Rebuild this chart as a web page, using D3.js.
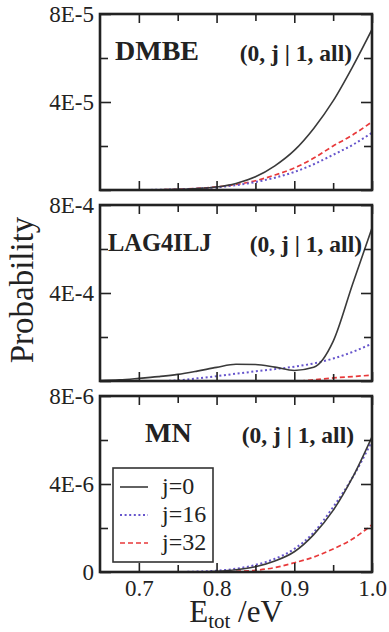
<!DOCTYPE html>
<html>
<head>
<meta charset="utf-8">
<script src="https://cdn.jsdelivr.net/npm/d3@7"></script>
<style>
  body { margin: 0; background: #fff; }
</style>
</head>
<body>
<main></main>
<script>
// energies (eV), sampled every 0.025
const energies = [0.65, 0.675, 0.70, 0.725, 0.75, 0.775, 0.80, 0.825, 0.85, 0.875, 0.90, 0.925, 0.95, 0.975, 1.00];

// DMBE, in units of 1E-5
const dmbeJ0  = [0, 0, 0, 0.01, 0.03, 0.07, 0.14, 0.30, 0.60, 1.10, 1.80, 2.80, 4.05, 5.60, 7.30];
const dmbeJ16 = [0, 0, 0, 0.01, 0.03, 0.06, 0.12, 0.22, 0.36, 0.56, 0.82, 1.17, 1.60, 2.05, 2.60];
const dmbeJ32 = [0, 0, 0, 0.01, 0.03, 0.07, 0.14, 0.25, 0.42, 0.68, 1.00, 1.45, 2.00, 2.50, 3.10];

// LAG4ILJ, in units of 1E-4
const lagJ0  = [0.02, 0.05, 0.12, 0.20, 0.30, 0.45, 0.62, 0.76, 0.75, 0.63, 0.48, 0.62, 1.80, 4.40, 6.95];
const lagJ16 = [0, 0, 0, 0, 0.03, 0.12, 0.22, 0.33, 0.44, 0.54, 0.65, 0.80, 1.02, 1.32, 1.70];
const lagJ32 = [0, 0, 0, 0, 0, 0, 0, 0, 0, 0, 0, 0.05, 0.14, 0.20, 0.27];

// MN, in units of 1E-6
const mnJ0  = [0, 0, 0, 0, 0, 0, 0.03, 0.10, 0.24, 0.50, 0.92, 1.70, 2.80, 4.30, 6.15];
const mnJ16 = [0, 0, 0, 0, 0, 0.02, 0.06, 0.15, 0.32, 0.60, 1.05, 1.80, 2.95, 4.30, 5.95];
const mnJ32 = [0, 0, 0, 0, 0, 0, 0, 0.03, 0.08, 0.20, 0.42, 0.68, 1.05, 1.50, 2.15];

const panelNames = ["DMBE", "LAG4ILJ", "MN"];
const yMajorTicks = [0, 4, 8];
const yMinorTicks = [2, 6];
const yTickLabels = [["", "4E-5", "8E-5"], ["", "4E-4", "8E-4"], ["0", "4E-6", "8E-6"]];
const xMajorTicks = [0.7, 0.8, 0.9, 1.0];
const xMinorTicks = [0.75, 0.85, 0.95];
const xTickLabels = ["0.7", "0.8", "0.9", "1.0"];
const legendLabels = ["j=0", "j=16", "j=32"];
const subtitle = "(0, j | 1, all)";

const panelData = [
  [dmbeJ0, dmbeJ16, dmbeJ32],
  [lagJ0, lagJ16, lagJ32],
  [mnJ0, mnJ16, mnJ32]
];

const size = { width: 389, height: 632 };
const plot = { left: 100, right: 372, top: 14, h: 176, gap: 15 };
const FONT = '"Liberation Serif", "Times New Roman", serif';

const lineStyles = [
  { color: "#3a3a3a", dash: null, width: 1.6 },
  { color: "#6655cc", dash: "2,2.6", width: 2 },
  { color: "#e8393a", dash: "5,3", width: 1.7 }
];

const svg = d3.select("main").append("svg")
  .attr("width", size.width)
  .attr("height", size.height);

const addText = (sel, fs, bold) => sel.append("text")
  .style("font-family", FONT)
  .style("font-size", fs + "px")
  .style("font-weight", bold ? "bold" : "normal")
  .attr("fill", "#222");

const x = d3.scaleLinear().domain([0.65, 1.0]).range([plot.left, plot.right]);

panelData.forEach((series, p) => {
  const top = plot.top + p * (plot.h + plot.gap);
  const bottom = top + plot.h;
  const y = d3.scaleLinear().domain([0, 8]).range([bottom, top]);
  const g = svg.append("g");

  // clip lines to the frame
  g.append("clipPath").attr("id", "clip" + p)
    .append("rect").attr("x", plot.left).attr("y", top)
    .attr("width", plot.right - plot.left).attr("height", plot.h);

  const line = d3.line()
    .x((d, i) => x(energies[i]))
    .y(d => y(d))
    .curve(d3.curveMonotoneX);

  // draw in order 32, 16, 0 so the solid sits on top
  [2, 1, 0].forEach(k => {
    g.append("path")
      .attr("clip-path", `url(#clip${p})`)
      .attr("d", line(series[k]))
      .attr("fill", "none")
      .attr("stroke", lineStyles[k].color)
      .attr("stroke-width", lineStyles[k].width)
      .attr("stroke-dasharray", lineStyles[k].dash);
  });

  // ticks, inward on all four sides
  const addAxis = (axis, tx, ty) => {
    const a = g.append("g").attr("transform", `translate(${tx},${ty})`).call(axis);
    a.select(".domain").remove();
    a.selectAll(".tick line").attr("stroke", "#222").attr("stroke-width", 1.6);
    a.selectAll("text").style("font-family", FONT).style("font-size", "23px").attr("fill", "#222");
    return a;
  };
  addAxis(d3.axisLeft(y).tickValues(yMajorTicks).tickSize(-11).tickPadding(6)
    .tickFormat((d, i) => yTickLabels[p][i]), plot.left, 0);
  addAxis(d3.axisLeft(y).tickValues(yMinorTicks).tickSize(-8).tickFormat(""), plot.left, 0);
  addAxis(d3.axisRight(y).tickValues(yMajorTicks).tickSize(-11).tickFormat(""), plot.right, 0);
  addAxis(d3.axisRight(y).tickValues(yMinorTicks).tickSize(-8).tickFormat(""), plot.right, 0);
  addAxis(d3.axisTop(x).tickValues(xMajorTicks).tickSize(-9).tickFormat(""), 0, top);
  addAxis(d3.axisTop(x).tickValues(xMinorTicks).tickSize(-7).tickFormat(""), 0, top);
  addAxis(d3.axisBottom(x).tickValues(xMajorTicks).tickSize(-9).tickPadding(8)
    .tickFormat((d, i) => p === 2 ? xTickLabels[i] : ""), 0, bottom);
  addAxis(d3.axisBottom(x).tickValues(xMinorTicks).tickSize(-7).tickFormat(""), 0, bottom);

  // frame
  g.append("rect")
    .attr("x", plot.left).attr("y", top)
    .attr("width", plot.right - plot.left).attr("height", plot.h)
    .attr("fill", "none").attr("stroke", "#222").attr("stroke-width", 2.6);

  // panel titles
  addText(g, [28, 24.5, 28][p], true)
    .attr("x", [115, 108, 145][p]).attr("y", top + 46)
    .text(panelNames[p]);
  addText(g, 23.5, true)
    .attr("x", [352, 362, 354][p]).attr("y", top + 47)
    .attr("text-anchor", "end")
    .text(subtitle);

  // legend in bottom panel
  if (p === 2) {
    const lg = g.append("g");
    lg.append("rect").attr("x", 113).attr("y", 468).attr("width", 100).attr("height", 94)
      .attr("fill", "#fff").attr("stroke", "#333").attr("stroke-width", 1.6);
    legendLabels.forEach((lab, k) => {
      const ly = 487 + k * 28;
      lg.append("line").attr("x1", 120).attr("x2", 148).attr("y1", ly).attr("y2", ly)
        .attr("stroke", lineStyles[k].color).attr("stroke-width", lineStyles[k].width)
        .attr("stroke-dasharray", lineStyles[k].dash);
      addText(lg, 24, false).attr("x", 162).attr("y", ly + 7).text(lab);
    });
  }
});

// axis titles
addText(svg, 33, false)
  .attr("transform", "translate(33,290) rotate(-90)")
  .attr("text-anchor", "middle")
  .text("Probability");

const xt = addText(svg, 31, false)
  .attr("x", 236).attr("y", 622)
  .attr("text-anchor", "middle");
xt.append("tspan").text("E");
xt.append("tspan").style("font-size", "21px").attr("dy", 6).text("tot");
xt.append("tspan").attr("dy", -6).text(" /eV");
</script>
</body>
</html>
